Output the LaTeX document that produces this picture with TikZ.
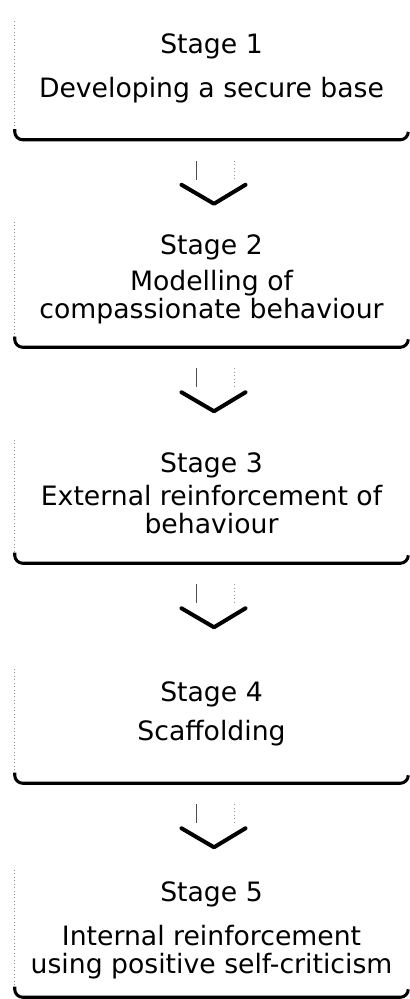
\documentclass[tikz,border=0pt]{standalone}
\usepackage{fontspec}
\setmainfont{DejaVu Sans}
\usepackage{tikz}
\usetikzlibrary{positioning,calc}
\tikzstyle{stage_box} = [rectangle, inner sep=0pt, minimum width=294.75pt]
\tikzstyle{stage_text} = [align=center, inner sep=0pt, font=\fontsize{20}{21}\selectfont]
\tikzstyle{edge_left} = [black!45, line width=0.6pt, dotted]
\tikzstyle{edge_bottom} = [line width=2.3pt, rounded corners=6pt]
\tikzstyle{arrow_shaft} = [black!70, line width=0.8pt]
\tikzstyle{arrow_side} = [black!40, line width=0.6pt, dotted]
\tikzstyle{arrow_head} = [line width=3pt, line join=round, line cap=round]

\begin{document}
\begin{tikzpicture}[x=0.75pt, y=-0.75pt]
\useasboundingbox (0,0) rectangle (410,999);
\node (b1) at (211.5,80.5) [stage_box, minimum height=88.5pt] {};
\node (b2) at (211.5,284.5) [stage_box, minimum height=93.75pt] {};
\node (b3) at (211.5,501.5) [stage_box, minimum height=92.25pt] {};
\node (b4) at (211.5,726) [stage_box, minimum height=85.5pt] {};
\node (b5) at (211.5,933.5) [stage_box, minimum height=95.25pt] {};
\node (s1) [stage_text, below=9pt of b1.north] {Stage 1\\[12pt]Developing a secure base};
\node (s2) [stage_text, below=9.5pt of b2.north] {Stage 2\\[6pt]Modelling of\\compassionate behaviour};
\node (s3) [stage_text, below=9.5pt of b3.north] {Stage 3\\[4pt]External reinforcement of\\behaviour};
\node (s4) [stage_text, below=9.5pt of b4.north] {Stage 4\\[8pt]Scaffolding};
\node (s5) [stage_text, below=9pt of b5.north] {Stage 5\\[12pt]Internal reinforcement\\using positive self-criticism};
% box outlines
\foreach \b in {b1,b2,b3,b4,b5} {
  \draw[edge_left] (\b.north west) -- ([yshift=8pt]\b.south west);
  \draw[edge_bottom] ([yshift=8pt]\b.south west) -- (\b.south west) -- (\b.south east) -- ([yshift=6pt]\b.south east);
}
% arrows
\foreach \a/\b in {b1/b2,b2/b3,b3/b4,b4/b5} {
  \draw[arrow_shaft] ($(\a.south)+(-15,21)$) -- ($(\a.south)+(-15,40)$);
  \draw[arrow_side] ($(\a.south)+(23,21)$) -- ($(\a.south)+(23,40)$);
  \draw[arrow_head] ($(\a.south)+(-30,45)$) -- ($(\a.south)+(2.5,64)$) -- ($(\a.south)+(34,45)$);
}
\end{tikzpicture}
\end{document}
